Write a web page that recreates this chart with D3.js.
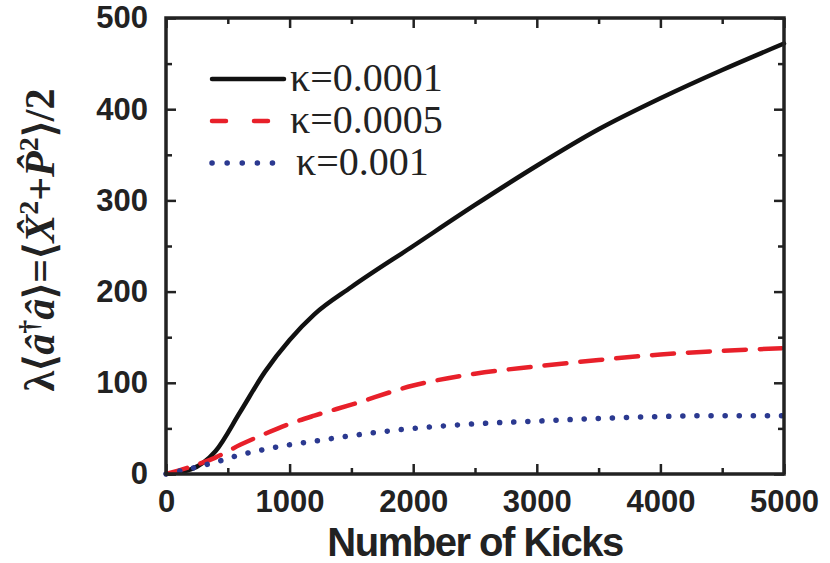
<!DOCTYPE html>
<html>
<head>
<meta charset="utf-8">
<script src="https://cdn.jsdelivr.net/npm/d3@7"></script>
<style>
  body { margin: 0; background: #fff; }
</style>
</head>
<body>
<svg id="chart" width="830" height="563"></svg>
<script>
var kicks = [0, 200, 400, 600, 800, 1000, 1200, 1500, 2000, 2500, 3000, 3500, 4000, 4500, 5000];
var kappa1 = [0, 5, 25, 68, 112, 147, 175, 205, 250, 295, 338, 378, 412, 443, 472];
var kappa5 = [0, 8, 18, 32, 44, 55, 64, 76, 97, 110, 118, 125, 131, 135, 138];
var kappa10 = [0, 6, 13, 21, 27, 32, 36, 42, 50, 55, 58, 61, 63, 64, 64];
var seriesLabels = ['\u03ba=0.0001', '\u03ba=0.0005', '\u03ba=0.001'];

var svg = d3.select('#chart');
var pLeft = 166, pRight = 784, pTop = 18, pBottom = 474;

var x = d3.scaleLinear().domain([0, 5000]).range([pLeft, pRight]);
var y = d3.scaleLinear().domain([0, 500]).range([pBottom, pTop]);

var series = [
    { values: kappa1, color: '#111', dash: null, width: 4.5 },
    { values: kappa5, color: '#e8202a', dash: '22,14', width: 4.5 },
    { values: kappa10, color: '#2b3990', dash: '0.1,14', width: 5.5 }
];

var line = d3.line()
    .x(function (d) { return x(d[0]); })
    .y(function (d) { return y(d[1]); })
    .curve(d3.curveMonotoneX);

series.forEach(function (s) {
    svg.append('path')
        .datum(kicks.map(function (k, i) { return [k, s.values[i]]; }))
        .attr('d', line)
        .attr('fill', 'none')
        .attr('stroke', s.color)
        .attr('stroke-width', s.width)
        .attr('stroke-linecap', 'round')
        .attr('stroke-dasharray', s.dash);
});

// axes with inward ticks on all four sides
function styleAxis(g) {
    g.select('.domain').remove();
    g.selectAll('.tick line').attr('stroke', '#222').attr('stroke-width', 2.5);
    g.selectAll('.tick text')
        .attr('font-family', '"Liberation Sans", Arial, sans-serif')
        .attr('font-weight', 'bold').attr('font-size', 31).attr('fill', '#222');
}
var xMajor = d3.range(0, 5001, 1000), xMinor = d3.range(500, 5000, 1000);
var yMajor = d3.range(0, 501, 100), yMinor = d3.range(50, 500, 100);

svg.append('g').attr('transform', 'translate(0,' + pBottom + ')')
    .call(d3.axisBottom(x).tickValues(xMajor).tickSize(-10).tickPadding(16).tickFormat(d3.format('d')))
    .call(styleAxis);
svg.append('g').attr('transform', 'translate(0,' + pBottom + ')')
    .call(d3.axisBottom(x).tickValues(xMinor).tickSize(-6).tickFormat(''))
    .call(styleAxis);
svg.append('g').attr('transform', 'translate(0,' + pTop + ')')
    .call(d3.axisTop(x).tickValues(xMajor).tickSize(-10).tickFormat(''))
    .call(styleAxis);
svg.append('g').attr('transform', 'translate(0,' + pTop + ')')
    .call(d3.axisTop(x).tickValues(xMinor).tickSize(-6).tickFormat(''))
    .call(styleAxis);
svg.append('g').attr('transform', 'translate(' + pLeft + ',0)')
    .call(d3.axisLeft(y).tickValues(yMajor).tickSize(-10).tickPadding(18))
    .call(styleAxis);
svg.append('g').attr('transform', 'translate(' + pLeft + ',0)')
    .call(d3.axisLeft(y).tickValues(yMinor).tickSize(-6).tickFormat(''))
    .call(styleAxis);
svg.append('g').attr('transform', 'translate(' + pRight + ',0)')
    .call(d3.axisRight(y).tickValues(yMajor).tickSize(-10).tickFormat(''))
    .call(styleAxis);
svg.append('g').attr('transform', 'translate(' + pRight + ',0)')
    .call(d3.axisRight(y).tickValues(yMinor).tickSize(-6).tickFormat(''))
    .call(styleAxis);

svg.append('rect')
    .attr('x', pLeft).attr('y', pTop)
    .attr('width', pRight - pLeft).attr('height', pBottom - pTop)
    .attr('fill', 'none').attr('stroke', '#222').attr('stroke-width', 3.5);

// legend
var legend = svg.append('g');
series.forEach(function (s, i) {
    var ly = 79 + i * 42;
    legend.append('line')
        .attr('x1', 212).attr('x2', 284).attr('y1', ly).attr('y2', ly)
        .attr('stroke', s.color).attr('stroke-width', s.width)
        .attr('stroke-linecap', 'round')
        .attr('stroke-dasharray', s.dash ? (i === 1 ? '14,28' : '0.1,15') : null);
    legend.append('text')
        .attr('x', i === 2 ? 296 : 290).attr('y', ly + 12)
        .attr('font-family', '"Liberation Serif", "Times New Roman", serif')
        .attr('font-size', 40).attr('fill', '#222')
        .text(seriesLabels[i]);
});

svg.append('text')
    .attr('x', (pLeft + pRight) / 2).attr('y', 556)
    .attr('text-anchor', 'middle')
    .attr('font-family', '"Liberation Sans", Arial, sans-serif')
    .attr('font-weight', 'bold').attr('font-size', 40).attr('fill', '#222')
    .attr('letter-spacing', -1.5)
    .text('Number of Kicks');

var ylab = svg.append('text')
    .attr('transform', 'translate(54,240) rotate(-90)')
    .attr('text-anchor', 'middle')
    .attr('font-family', '"Liberation Serif", "Times New Roman", serif')
    .attr('font-weight', 'bold').attr('font-size', 42).attr('fill', '#222');
ylab.append('tspan').text('\u03bb\u27e8');
ylab.append('tspan').attr('font-style', 'italic').text('\u00e2');
ylab.append('tspan').attr('dy', -16).attr('font-size', 28).text('\u2020');
ylab.append('tspan').attr('dy', 16).attr('font-style', 'italic').text('\u00e2');
ylab.append('tspan').text('\u27e9=\u27e8');
ylab.append('tspan').attr('font-style', 'italic').text('X\u0302');
ylab.append('tspan').attr('dy', -16).attr('font-size', 28).text('2');
ylab.append('tspan').attr('dy', 16).text('+');
ylab.append('tspan').attr('font-style', 'italic').text('P\u0302');
ylab.append('tspan').attr('dy', -16).attr('font-size', 28).text('2');
ylab.append('tspan').attr('dy', 16).text('\u27e9/2');
</script>
</body>
</html>
